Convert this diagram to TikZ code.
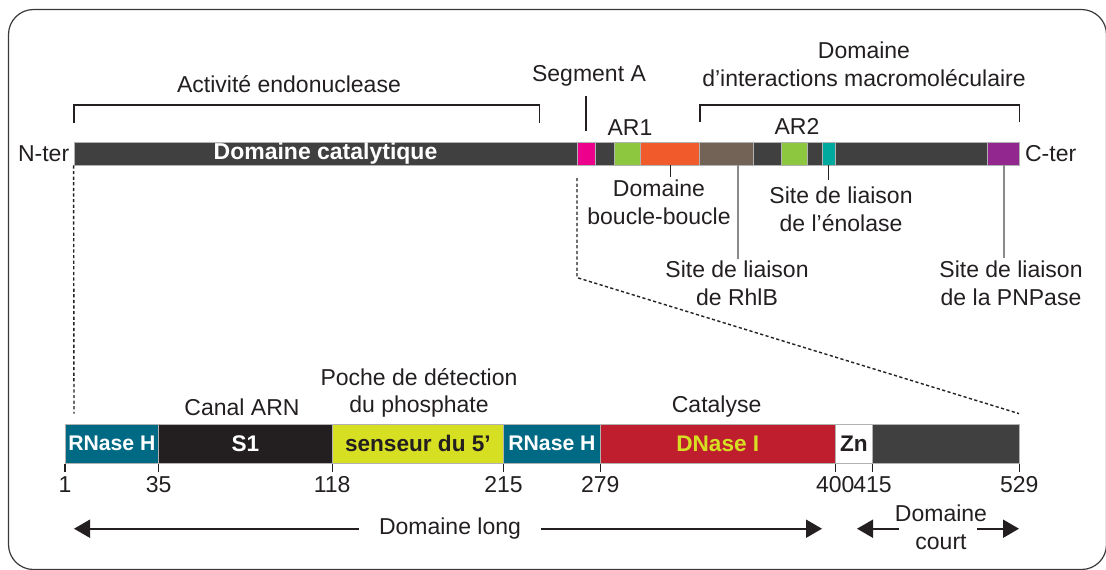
\documentclass[tikz,border=0pt]{standalone}
\usepackage{fontspec}
\setmainfont{Liberation Sans}
\usepackage{tikz}
\usetikzlibrary{arrows.meta, positioning, fit}
\definecolor{inkdark}{HTML}{231F20}
\definecolor{bardark}{HTML}{404041}
\definecolor{segpink}{HTML}{EC008C}
\definecolor{argreen}{HTML}{8DC63F}
\definecolor{looporange}{HTML}{F15A2B}
\definecolor{rhlbbrown}{HTML}{736357}
\definecolor{enoteal}{HTML}{00A99D}
\definecolor{pnppurple}{HTML}{92278F}
\definecolor{rnaseblue}{HTML}{006A84}
\definecolor{sensyellow}{HTML}{D7DF23}
\definecolor{dnred}{HTML}{BE1E2D}
\definecolor{framegray}{HTML}{3A3A3A}
\definecolor{leadgray}{HTML}{8A8A8A}
\tikzset{
  seg/.style={draw=black!30, line width=0.4pt, inner sep=0pt, fill=#1},
  bartxt/.style={font=\fontsize{11.5}{13}\selectfont\bfseries, text=white, inner sep=0pt},
  boxtxt/.style={font=\fontsize{11.3}{13}\selectfont\bfseries, text=#1, inner sep=0pt},
  lbl/.style={font=\fontsize{11.5}{13.8}\selectfont, text=inkdark, align=center, inner sep=0pt},
  brk/.style={draw=inkdark, line width=0.75pt},
  pin/.style={draw=inkdark, line width=0.55pt},
  lead/.style={draw=leadgray, line width=0.6pt},
  zoomline/.style={draw=inkdark, line width=0.7pt, dash pattern=on 1.6pt off 1.2pt},
  span/.style={-{Triangle[length=8pt, width=9pt]}, draw=inkdark, line width=0.9pt}
}
\begin{document}
\begin{tikzpicture}[x=0.5pt, y=-0.5pt]
\useasboundingbox (0,0) rectangle (1106,569);
\draw[framegray, line width=0.6pt, rounded corners=12.5pt] (8.5,9.5) rectangle (1106.5,569.5);

% full protein
\node[seg=bardark, fit={(74,142.5) (577,165)}] (cat) {};
\node[seg=segpink, fit={(577,142.5) (595,165)}] (sega) {};
\node[seg=bardark, fit={(595,142.5) (614,165)}] (gap1) {};
\node[seg=argreen, fit={(614,142.5) (640.5,165)}] (ar1) {};
\node[seg=looporange, fit={(640.5,142.5) (699.7,165)}] (loop) {};
\node[seg=rhlbbrown, fit={(699.7,142.5) (753.3,165)}] (rhlb) {};
\node[seg=bardark, fit={(753.3,142.5) (781.5,165)}] (gap2) {};
\node[seg=argreen, fit={(781.5,142.5) (807,165)}] (ar2) {};
\node[seg=bardark, fit={(807,142.5) (822.5,165)}] (gap3) {};
\node[seg=enoteal, fit={(822.5,142.5) (835,165)}] (eno) {};
\node[seg=bardark, fit={(835,142.5) (987.5,165)}] (gap4) {};
\node[seg=pnppurple, fit={(987.5,142.5) (1019.3,165)}] (pnp) {};
\node[bartxt] (cattxt) at (cat.center) {Domaine catalytique};
\node[lbl, left=2pt of cat] (nter) {N-ter};
\node[lbl, right=2.5pt of pnp] (cter) {C-ter};

% labels above
\node[lbl] (endo) at (289,84) {Activité endonuclease};
\draw[brk] (74,123.4) |- (539.6,105.2) -- (539.6,123.4);
\node[lbl] (segalbl) at (589,75.5) {Segment A};
\coordinate (segatop) at (586,96);
\draw[pin, line width=0.75pt] (segatop) -- (segatop |- 0,131);
\node[lbl] (inter) at (864,64) {Domaine\\d’interactions macromoléculaire};
\draw[brk] (700,121.5) |- (1019.3,105) -- (1019.3,121.5);
\node[lbl] (ar1lbl) at (630,128) {AR1};
\node[lbl] (ar2lbl) at (797,126.5) {AR2};

% labels below
\node[lbl] (looplbl) at (659,202.5) {Domaine\\boucle-boucle};
\draw[pin] (loop.south) -- (loop.south |- 0,177);
\node[lbl] (enolbl) at (841,209.5) {Site de liaison\\de l’énolase};
\draw[pin] (eno.south) -- (eno.south |- 0,180);
\node[lbl] (rhlblbl) at (737,283) {Site de liaison\\de RhlB};
\draw[lead] (738,259) -- (738,165);
\node[lbl] (pnplbl) at (1011,283) {Site de liaison\\de la PNPase};
\draw[lead] (1004,165) -- (1004,258);

% zoom lines
\coordinate (zl) at (74,413.6);
\coordinate (zr1) at (577,178);
\coordinate (zr2) at (577,277.6);
\coordinate (zr3) at (1019,413.6);
\draw[zoomline] (cat.south west) -- (zl);
\draw[zoomline] (zr1) -- (zr2) -- (zr3);

% N-terminal half
\node[seg=rnaseblue, fit={(65,424) (158.7,463.5)}] (rnh1) {};
\node[seg=inkdark, fit={(158.7,424) (332.2,463.5)}] (s1) {};
\node[seg=sensyellow, fit={(332.2,424) (503.6,463.5)}] (sens) {};
\node[seg=rnaseblue, fit={(503.6,424) (600.3,463.5)}] (rnh2) {};
\node[seg=dnred, fit={(600.3,424) (835.2,463.5)}] (dnase) {};
\node[seg=white, fit={(835.2,424) (872.5,463.5)}] (zn) {};
\node[seg=bardark, fit={(872.5,424) (1019.3,463.5)}] (ctail) {};
\node[boxtxt=white, font=\fontsize{10.6}{12}\selectfont\bfseries] (rnh1txt) at (rnh1.center) {RNase H};
\node[boxtxt=white] (s1txt) at (s1.center) {S1};
\node[boxtxt=inkdark] (senstxt) at (sens.center) {senseur du 5’};
\node[boxtxt=white, font=\fontsize{10.6}{12}\selectfont\bfseries] (rnh2txt) at (rnh2.center) {RNase H};
\node[boxtxt=sensyellow] (dnasetxt) at (dnase.center) {DNase I};
\node[boxtxt=inkdark] (zntxt) at (zn.center) {Zn};

\node[lbl] (canal) at (242,407) {Canal ARN};
\node[lbl] (poche) at (419,393) {Poche de détection\\du phosphate};
\node[lbl] (catal) at (716.6,407) {Catalyse};

\foreach \xp/\num in {65/1, 158.7/35, 332.2/118, 503.6/215, 600.3/279, 835.2/400, 872.5/415, 1019.3/529} {
  \draw[pin, line width=0.7pt] (\xp,463.5) -- (\xp,472);
  \node[lbl] (n\num) at (\xp,485) {\num};
}

% spans
\node[lbl, inner xsep=10pt] (dlong) at (450,528.7) {Domaine long};
\coordinate (longl) at (74,528.7);
\coordinate (longr) at (822,528.7);
\draw[span] (dlong.west) -- (longl);
\draw[span] (dlong.east) -- (longr);
\node[lbl] (dcourt) at (941,527) {Domaine\\court};
\coordinate (courtl) at (857,528.7);
\coordinate (courtr) at (1019,528.7);
\coordinate (courta) at (899,528.7);
\coordinate (courtb) at (977,528.7);
\draw[span] (courta) -- (courtl);
\draw[span] (courtb) -- (courtr);
\end{tikzpicture}
\end{document}
